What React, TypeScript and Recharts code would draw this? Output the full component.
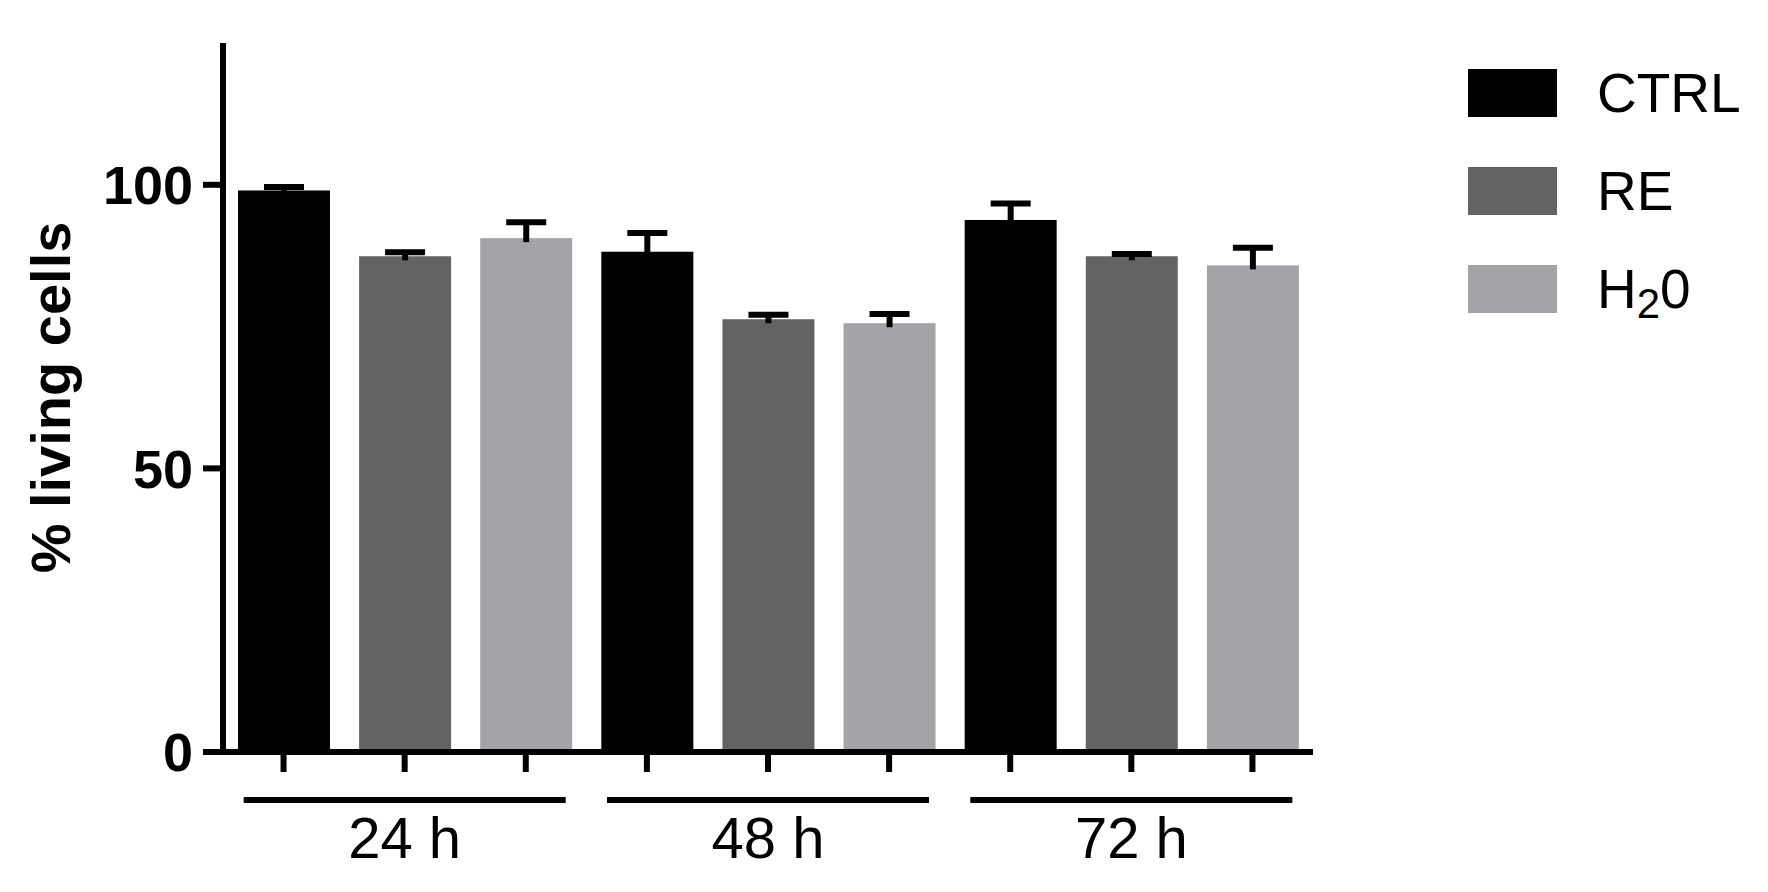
import React from 'react';
import { BarChart, Bar, XAxis, YAxis } from 'recharts';

const groups = ['24 h', '48 h', '72 h'];
const seriesKeys = ['CTRL', 'RE', 'H2O'];
const seriesColors = ['#000000', '#636363', '#a3a4a8'];
const ctrlMean = [99.0, 88.2, 93.8];
const reMean = [87.4, 76.3, 87.4];
const h2oMean = [90.6, 75.6, 85.8];
const ctrlSem = [0.6, 3.3, 2.9];
const reSem = [0.7, 0.8, 0.4];
const h2oSem = [2.8, 1.6, 3.1];
const yTicks = [0, 50, 100];

const FONT = '"Liberation Sans", Arial, sans-serif';

const means = [ctrlMean, reMean, h2oMean];
const sems = [ctrlSem, reSem, h2oSem];

// one slot per bar, only one series filled per slot
const rows = groups.flatMap((g, gi) =>
    seriesKeys.map((s, si) => {
        const row: any = { slot: `${g}-${s}`, group: g, mean: means[si][gi], err: sems[si][gi] };
        seriesKeys.forEach((k) => {
            row[k] = k === s ? means[si][gi] : null;
        });
        return row;
    })
);

const BarWithError = (props: any) => {
    const { x, y, width, height, fill, payload } = props;
    if (!height || height <= 0) return null;
    const pxPerUnit = height / payload.mean;
    const top = y - payload.err * pxPerUnit;
    const cx = x + width / 2;
    return (
        <g>
            <rect x={x} y={y} width={width} height={height} fill={fill} />
            <line x1={cx} x2={cx} y1={y + 4} y2={top} stroke="#000" strokeWidth={6} />
            <line x1={cx - 20} x2={cx + 20} y1={top} y2={top} stroke="#000" strokeWidth={6} />
        </g>
    );
};

const GroupTick = (props: any) => {
    const { x, y, payload } = props;
    return (
        <g>
            <line x1={x - 161} x2={x + 161} y1={y + 8} y2={y + 8} stroke="#000" strokeWidth={6} />
            <text x={x} y={y + 66} textAnchor="middle" fontSize={58} fontFamily={FONT} fill="#000">
                {payload.value}
            </text>
        </g>
    );
};

const YLabel = (props: any) => {
    const { viewBox } = props;
    const cy = viewBox.y + viewBox.height / 2;
    const cx = viewBox.x + 70;
    return (
        <text
            x={cx}
            y={cy}
            transform={`rotate(-90, ${cx}, ${cy})`}
            textAnchor="middle"
            fontSize={56}
            fontWeight="bold"
            fontFamily={FONT}
            fill="#000"
        >
            % living cells
        </text>
    );
};

const legendName = (name: string) => {
    if (name === 'H2O') {
        return (
            <>
                H
                <tspan fontSize={42} dy={10}>2</tspan>
                <tspan dy={-10}>0</tspan>
            </>
        );
    }
    return name;
};

export default function App() {
    return (
        <div style={{ position: 'absolute', left: 0, top: 0, width: 1768, height: 892, background: '#fff' }}>
            <BarChart
                width={1768}
                height={892}
                data={rows}
                margin={{ top: 43, right: 455, bottom: 0, left: 0 }}
                barSize={92}
            >
                <YAxis
                    width={223}
                    domain={[0, 125]}
                    ticks={yTicks}
                    interval={0}
                    tickSize={20}
                    tickMargin={10}
                    axisLine={{ stroke: '#000', strokeWidth: 6 }}
                    tickLine={{ stroke: '#000', strokeWidth: 6 }}
                    tick={{ fontSize: 54, fontWeight: 'bold', fill: '#000', fontFamily: FONT }}
                    label={{ content: YLabel }}
                />
                <XAxis
                    dataKey="slot"
                    height={40}
                    interval={0}
                    tickSize={20}
                    tickFormatter={() => ''}
                    axisLine={{ stroke: '#000', strokeWidth: 6 }}
                    tickLine={{ stroke: '#000', strokeWidth: 6 }}
                />
                <XAxis
                    xAxisId="group"
                    dataKey="group"
                    allowDuplicatedCategory={false}
                    height={100}
                    interval={0}
                    tickSize={0}
                    tickMargin={0}
                    axisLine={false}
                    tickLine={false}
                    tick={<GroupTick />}
                />
                {seriesKeys.map((k, i) => (
                    <Bar
                        key={k}
                        dataKey={k}
                        stackId="s"
                        fill={seriesColors[i]}
                        isAnimationActive={false}
                        shape={<BarWithError />}
                    />
                ))}
            </BarChart>
            <svg style={{ position: 'absolute', left: 1460, top: 60 }} width={308} height={270}>
                {seriesKeys.map((k, i) => (
                    <g key={k} transform={`translate(0, ${i * 98})`}>
                        <rect x={8} y={9} width={89} height={48} fill={seriesColors[i]} />
                        <text x={137} y={52} fontSize={55} fontFamily={FONT} fill="#000">
                            {legendName(k)}
                        </text>
                    </g>
                ))}
            </svg>
        </div>
    );
}
